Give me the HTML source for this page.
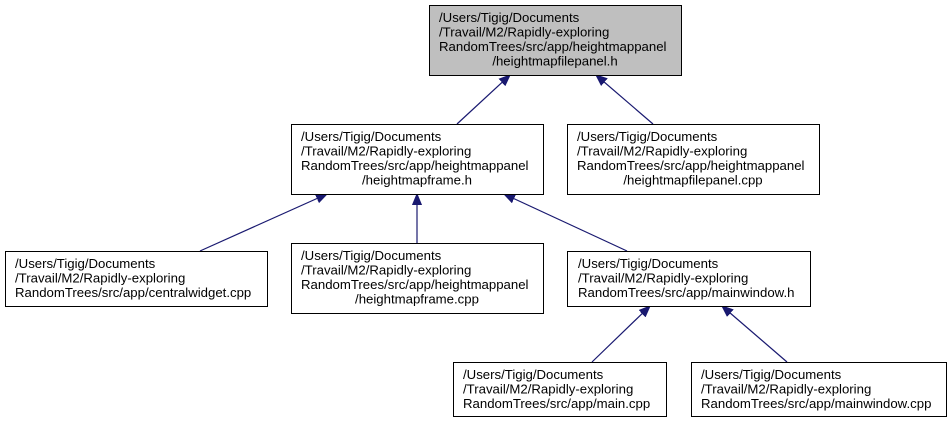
<!DOCTYPE html>
<html><head><meta charset="utf-8"><style>
html,body{margin:0;padding:0;background:#fff;}
svg{display:block;}
text{font-family:"Liberation Sans",Arial,sans-serif;font-size:13.2px;fill:#000;}
.c{text-anchor:middle;}
rect{stroke:#000;stroke-width:1;}
line{stroke:#191970;stroke-width:1.2;}
</style></head><body>
<svg width="952" height="423" viewBox="0 0 952 423" xmlns="http://www.w3.org/2000/svg">
<defs>
<marker id="ar" markerUnits="userSpaceOnUse" markerWidth="12" markerHeight="10" refX="11" refY="5" orient="auto">
<path d="M0,0.5 L11,5 L0,9.5 z" fill="#191970" stroke="#191970"/>
</marker>
</defs>
<line x1="457" y1="124" x2="510" y2="75" marker-end="url(#ar)"/>
<line x1="653" y1="124" x2="596" y2="75" marker-end="url(#ar)"/>
<line x1="200" y1="251" x2="327" y2="194" marker-end="url(#ar)"/>
<line x1="417" y1="243" x2="417" y2="194" marker-end="url(#ar)"/>
<line x1="627" y1="251" x2="504" y2="194" marker-end="url(#ar)"/>
<line x1="592" y1="362" x2="650" y2="306" marker-end="url(#ar)"/>
<line x1="787" y1="362" x2="722" y2="306" marker-end="url(#ar)"/>

<rect x="429.5" y="5.5" width="252" height="70" fill="#bfbfbf"/>
<text x="439" y="22">/Users/Tigig/Documents</text>
<text x="439" y="36.5">/Travail/M2/Rapidly-exploring</text>
<text x="439" y="51">RandomTrees/src/app/heightmappanel</text>
<text x="555" y="65.5" class="c">/heightmapfilepanel.h</text>

<rect x="291.5" y="124.5" width="252" height="70" fill="#fff"/>
<text x="301" y="141">/Users/Tigig/Documents</text>
<text x="301" y="155.5">/Travail/M2/Rapidly-exploring</text>
<text x="301" y="170">RandomTrees/src/app/heightmappanel</text>
<text x="417" y="184.5" class="c">/heightmapframe.h</text>

<rect x="567.5" y="124.5" width="252" height="70" fill="#fff"/>
<text x="577" y="141">/Users/Tigig/Documents</text>
<text x="577" y="155.5">/Travail/M2/Rapidly-exploring</text>
<text x="577" y="170">RandomTrees/src/app/heightmappanel</text>
<text x="693" y="184.5" class="c">/heightmapfilepanel.cpp</text>

<rect x="5.5" y="251.5" width="262" height="55" fill="#fff"/>
<text x="15" y="268">/Users/Tigig/Documents</text>
<text x="15" y="282.5">/Travail/M2/Rapidly-exploring</text>
<text x="15" y="297">RandomTrees/src/app/centralwidget.cpp</text>

<rect x="291.5" y="243.5" width="252" height="70" fill="#fff"/>
<text x="301" y="260">/Users/Tigig/Documents</text>
<text x="301" y="274.5">/Travail/M2/Rapidly-exploring</text>
<text x="301" y="289">RandomTrees/src/app/heightmappanel</text>
<text x="417" y="303.5" class="c">/heightmapframe.cpp</text>

<rect x="567.5" y="251.5" width="243" height="55" fill="#fff"/>
<text x="578" y="268">/Users/Tigig/Documents</text>
<text x="578" y="282.5">/Travail/M2/Rapidly-exploring</text>
<text x="578" y="297">RandomTrees/src/app/mainwindow.h</text>

<rect x="453.5" y="362.5" width="213" height="54" fill="#fff"/>
<text x="463" y="379">/Users/Tigig/Documents</text>
<text x="463" y="393.5">/Travail/M2/Rapidly-exploring</text>
<text x="463" y="408">RandomTrees/src/app/main.cpp</text>

<rect x="691.5" y="362.5" width="255" height="54" fill="#fff"/>
<text x="701" y="379">/Users/Tigig/Documents</text>
<text x="701" y="393.5">/Travail/M2/Rapidly-exploring</text>
<text x="701" y="408">RandomTrees/src/app/mainwindow.cpp</text>
</svg>
</body></html>
